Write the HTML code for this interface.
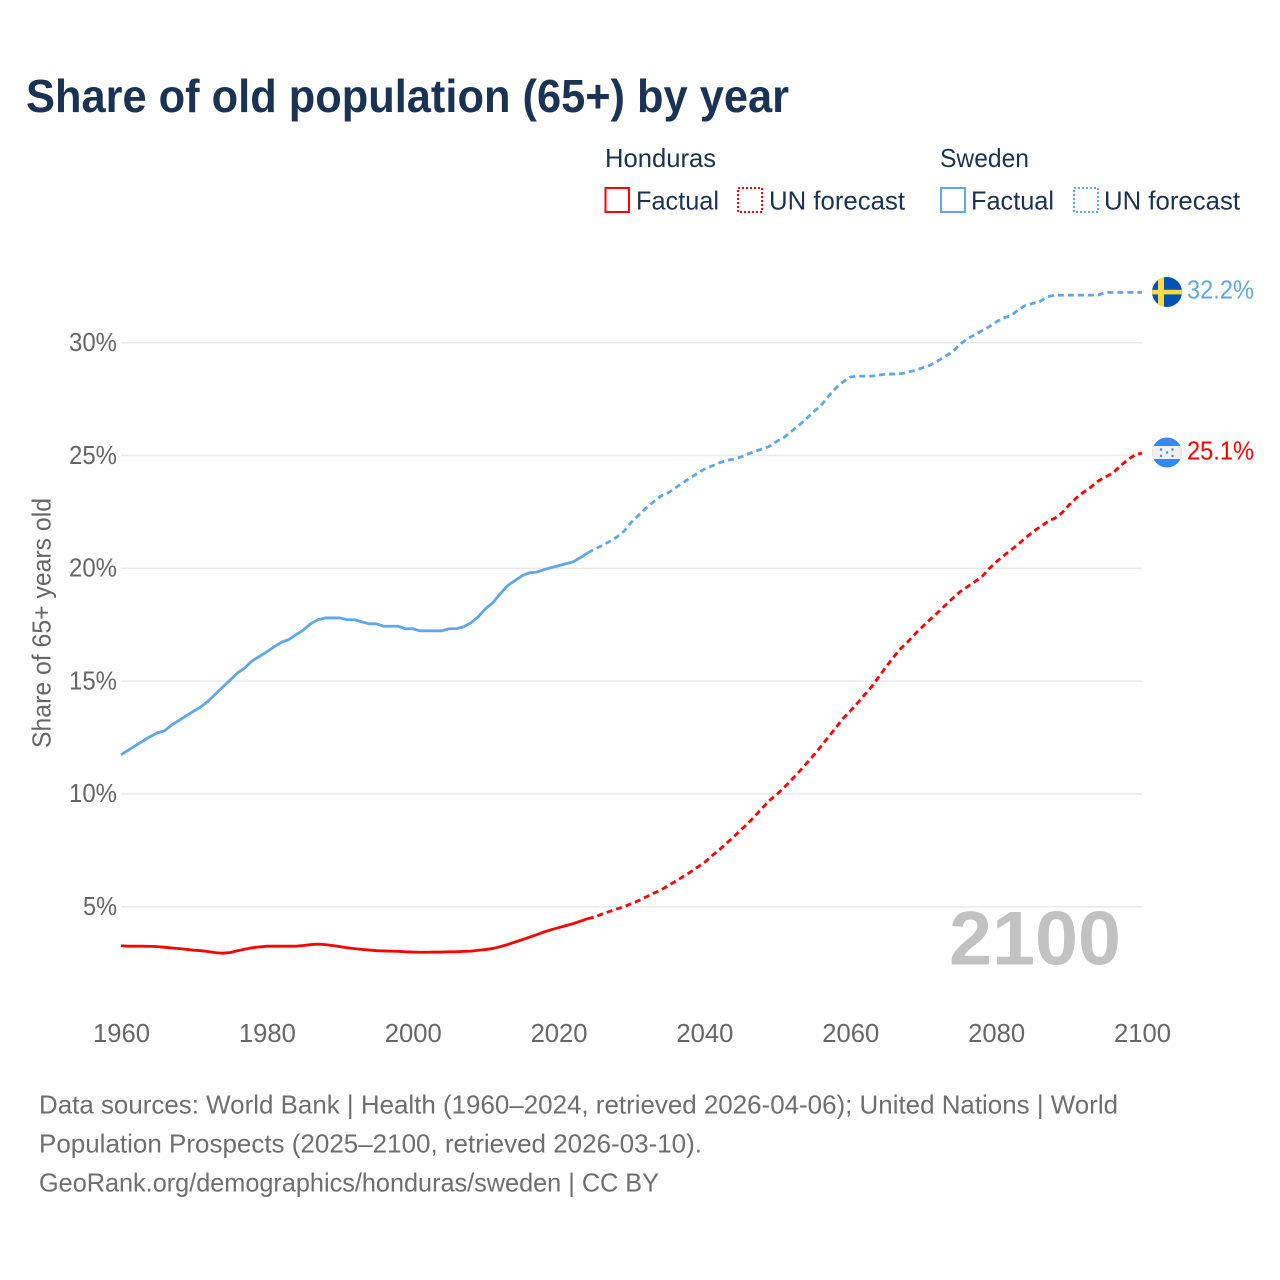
<!DOCTYPE html>
<html lang="en">
<head>
<meta charset="utf-8">
<title>Share of old population (65+) by year</title>
<style>
html,body{margin:0;padding:0;background:#fff;}
svg{display:block;font-family:"Liberation Sans",sans-serif;}
</style>
</head>
<body>
<svg id="chart" xmlns="http://www.w3.org/2000/svg" width="1280" height="1280" viewBox="0 0 1280 1280">
  <rect width="1280" height="1280" fill="#ffffff"/>
  <defs>
    <clipPath id="clip-se"><circle cx="1167" cy="292" r="15"/></clipPath>
    <clipPath id="clip-hn"><circle cx="1167" cy="452.5" r="15"/></clipPath>
  </defs>
  <text x="26" y="112" font-size="46" font-weight="700" fill="#1a3354" textLength="763" lengthAdjust="spacingAndGlyphs">Share of old population (65+) by year</text>

  <g font-size="26" fill="#1a3354">
    <text x="605" y="167" textLength="111" lengthAdjust="spacingAndGlyphs">Honduras</text>
    <text x="940" y="167" textLength="89" lengthAdjust="spacingAndGlyphs">Sweden</text>
    <rect x="605.5" y="188" width="23.5" height="24" fill="none" stroke="#ff0000" stroke-width="2"/>
    <text x="636" y="209.5" textLength="83" lengthAdjust="spacingAndGlyphs">Factual</text>
    <rect x="738" y="188" width="24" height="24" fill="none" stroke="#ff0000" stroke-width="2" stroke-dasharray="2 2"/>
    <text x="769" y="209.5" textLength="136" lengthAdjust="spacingAndGlyphs">UN forecast</text>
    <rect x="941" y="188" width="24" height="24" fill="none" stroke="#5ea6ee" stroke-width="2"/>
    <text x="971" y="209.5" textLength="83" lengthAdjust="spacingAndGlyphs">Factual</text>
    <rect x="1074" y="188" width="24" height="24" fill="none" stroke="#5ea6ee" stroke-width="2" stroke-dasharray="2 2"/>
    <text x="1104" y="209.5" textLength="136" lengthAdjust="spacingAndGlyphs">UN forecast</text>
  </g>

  <g id="grid"></g>
  <g id="y-ticks" font-size="26" fill="#666666"></g>
  <g id="x-ticks" font-size="26" fill="#666666"></g>
  <text transform="translate(50.5,623) rotate(-90)" text-anchor="middle" font-size="26" fill="#666666" textLength="250" lengthAdjust="spacingAndGlyphs">Share of 65+ years old</text>
  <text x="949" y="964.5" font-size="76" font-weight="700" fill="#c2c2c2" textLength="172" lengthAdjust="spacingAndGlyphs">2100</text>
  <g id="series"></g>

  <g clip-path="url(#clip-se)">
    <rect x="1152" y="277" width="30" height="30" fill="#0052b4"/>
    <rect x="1158" y="277" width="6" height="30" fill="#ffda44"/>
    <rect x="1152" y="289.8" width="30" height="4.6" fill="#ffda44"/>
  </g>
  <g clip-path="url(#clip-hn)">
    <rect x="1152" y="437" width="30" height="31" fill="#338af3"/>
    <rect x="1152" y="446" width="30" height="13" fill="#f0f0f0"/>
    <g fill="#338af3">
      <circle cx="1161" cy="449.5" r="1.2"/><circle cx="1172.5" cy="449.5" r="1.2"/>
      <circle cx="1167" cy="452.5" r="1.2"/>
      <circle cx="1161" cy="456" r="1.2"/><circle cx="1172.5" cy="456" r="1.2"/>
    </g>
  </g>
  <text x="1187" y="298.5" font-size="26" fill="#5ea6ee" textLength="67" lengthAdjust="spacingAndGlyphs">32.2%</text>
  <text x="1187" y="459.5" font-size="26" fill="#ff0000" textLength="67" lengthAdjust="spacingAndGlyphs">25.1%</text>

  <g font-size="26" fill="#6e6e6e">
    <text x="39" y="1113.5" textLength="1079" lengthAdjust="spacingAndGlyphs">Data sources: World Bank | Health (1960–2024, retrieved 2026-04-06); United Nations | World</text>
    <text x="39" y="1152.5" textLength="663" lengthAdjust="spacingAndGlyphs">Population Prospects (2025–2100, retrieved 2026-03-10).</text>
    <text x="39" y="1191.5" textLength="620" lengthAdjust="spacingAndGlyphs">GeoRank.org/demographics/honduras/sweden | CC BY</text>
  </g>
</svg>
<script>
const yTickValues = [5, 10, 15, 20, 25, 30];
const yTickLabels = ["5%", "10%", "15%", "20%", "25%", "30%"];
const xTickValues = [1960, 1980, 2000, 2020, 2040, 2060, 2080, 2100];
const factualStartYear = 1960;
const forecastStartYear = 2024;
const hondurasFactual = [3.27,3.25,3.25,3.25,3.24,3.23,3.20,3.17,3.14,3.11,
  3.07,3.05,3.01,2.96,2.94,2.97,3.05,3.12,3.18,3.22,
  3.25,3.25,3.25,3.25,3.25,3.28,3.32,3.34,3.32,3.28,
  3.23,3.18,3.14,3.11,3.08,3.05,3.04,3.03,3.02,3.00,
  2.99,2.98,2.98,2.99,2.99,3.00,3.00,3.02,3.03,3.07,
  3.10,3.15,3.23,3.32,3.43,3.54,3.65,3.76,3.88,3.98,
  4.07,4.16,4.25,4.36,4.47];
const hondurasForecast = [4.47,4.54,4.68,4.79,4.90,5.00,
  5.14,5.27,5.43,5.59,5.74,5.92,6.12,6.32,6.52,6.74,
  6.96,7.25,7.51,7.80,8.09,8.40,8.71,9.04,9.40,9.73,
  10.00,10.31,10.64,10.99,11.35,11.72,12.12,12.52,12.92,13.34,
  13.67,14.03,14.41,14.78,15.23,15.67,16.09,16.47,16.78,17.13,
  17.44,17.75,18.04,18.35,18.66,18.95,19.17,19.39,19.61,19.97,
  20.28,20.55,20.81,21.05,21.34,21.61,21.83,22.05,22.21,22.45,
  22.81,23.12,23.38,23.60,23.87,24.05,24.22,24.53,24.80,25.02,25.11];
const swedenFactual = [11.74,11.94,12.14,12.34,12.54,12.71,12.80,13.07,13.27,13.47,
  13.67,13.87,14.13,14.44,14.75,15.06,15.37,15.59,15.90,16.10,
  16.30,16.52,16.72,16.84,17.06,17.26,17.54,17.72,17.80,17.80,
  17.80,17.72,17.72,17.63,17.54,17.54,17.43,17.43,17.43,17.32,
  17.32,17.23,17.23,17.23,17.23,17.32,17.32,17.41,17.59,17.86,
  18.21,18.48,18.87,19.23,19.45,19.67,19.80,19.83,19.94,20.03,
  20.12,20.20,20.29,20.47,20.69];
const swedenForecast = [20.69,20.86,21.01,21.19,21.39,21.65,
  22.05,22.36,22.67,22.94,23.20,23.34,23.56,23.78,24.00,24.20,
  24.40,24.53,24.67,24.78,24.84,24.93,25.07,25.20,25.29,25.42,
  25.64,25.82,26.09,26.35,26.64,26.95,27.22,27.62,27.99,28.26,
  28.48,28.52,28.52,28.52,28.57,28.61,28.61,28.63,28.70,28.79,
  28.90,29.01,29.19,29.39,29.59,29.92,30.16,30.34,30.52,30.70,
  30.92,31.10,31.19,31.45,31.65,31.74,31.83,32.03,32.11,32.11,
  32.11,32.11,32.11,32.11,32.11,32.23,32.23,32.23,32.23,32.23,32.23];

const SVG_NS = "http://www.w3.org/2000/svg";
function xScale(year) { return 121 + (year - 1960) * (1142 - 121) / 140; }
function yScale(value) { return 906.7 - (value - 5) * 22.56; }

const gridGroup = document.getElementById("grid");
const yTickGroup = document.getElementById("y-ticks");
const xTickGroup = document.getElementById("x-ticks");
const seriesGroup = document.getElementById("series");

yTickValues.forEach(function (tick, i) {
  const line = document.createElementNS(SVG_NS, "line");
  
  
  line.setAttribute("x1", xScale(1960));
  line.setAttribute("x2", xScale(2100));
  line.setAttribute("y1", yScale(tick));
  line.setAttribute("y2", yScale(tick));
  line.setAttribute("stroke", "#e9e9e9");
  line.setAttribute("stroke-width", "1.5");
  gridGroup.appendChild(line);

  const label = document.createElementNS(SVG_NS, "text");
  
  
  label.setAttribute("x", 117);
  label.setAttribute("y", yScale(tick) + 8.3);
  label.setAttribute("text-anchor", "end");
  label.setAttribute("textLength", yTickLabels[i].length === 2 ? 34 : 48);
  label.setAttribute("lengthAdjust", "spacingAndGlyphs");
  label.textContent = yTickLabels[i];
  yTickGroup.appendChild(label);
});

xTickValues.forEach(function (tick) {
  const label = document.createElementNS(SVG_NS, "text");
  
  
  label.setAttribute("x", xScale(tick) + 0.5);
  label.setAttribute("y", 1042);
  label.setAttribute("text-anchor", "middle");
  label.setAttribute("textLength", 57);
  label.setAttribute("lengthAdjust", "spacingAndGlyphs");
  label.textContent = String(tick);
  xTickGroup.appendChild(label);
});

function buildPath(values, startYear) {
  return values.map(function (v, i) {
    return (i === 0 ? "M" : "L") + xScale(startYear + i).toFixed(2) + " " + yScale(v).toFixed(2);
  }).join(" ");
}

function styleLine(path, values, startYear, color, dashed) {
  path.setAttribute("d", buildPath(values, startYear));
  path.setAttribute("fill", "none");
  path.setAttribute("stroke", color);
  path.setAttribute("stroke-width", "2.8");
  path.setAttribute("stroke-linejoin", "round");
  if (dashed) { path.setAttribute("stroke-dasharray", "6 4"); }
  seriesGroup.appendChild(path);
}

const swedenForecastLine = document.createElementNS(SVG_NS, "path");


styleLine(swedenForecastLine, swedenForecast, forecastStartYear, "#5ea6ee", true);

const swedenFactualLine = document.createElementNS(SVG_NS, "path");


styleLine(swedenFactualLine, swedenFactual, factualStartYear, "#5ea6ee", false);

const hondurasForecastLine = document.createElementNS(SVG_NS, "path");


styleLine(hondurasForecastLine, hondurasForecast, forecastStartYear, "#ff0000", true);

const hondurasFactualLine = document.createElementNS(SVG_NS, "path");


styleLine(hondurasFactualLine, hondurasFactual, factualStartYear, "#ff0000", false);
</script>
</body>
</html>
